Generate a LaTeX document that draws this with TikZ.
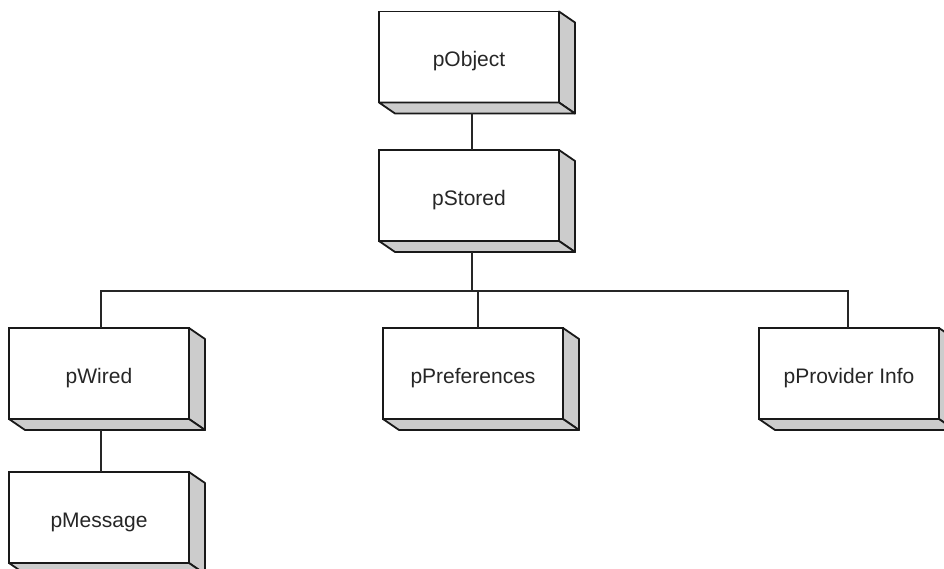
\documentclass[tikz,border=0pt]{standalone}
\usepackage{fontspec}
\setmainfont{Liberation Sans}
\begin{document}
\begin{tikzpicture}[x=1pt,y=-1pt,
  pbox/.style={draw=black!90, line width=1.8pt, fill=white, rectangle,
    minimum width=180pt, minimum height=91pt, inner sep=0pt, outer sep=0pt,
    text height=20pt, text depth=0pt,
    font=\fontsize{21}{25}\selectfont, text=black!85},
  side/.style={draw=black!90, line width=1.8pt, fill=black!20, line join=round},
  conn/.style={draw=black!85, line width=1.5pt}]
\useasboundingbox (0,0) rectangle (944,569);
\newcommand\threedbox[3]{%
  \node[pbox] (#1) at (#2) {#3};
  \filldraw[side] (#1.north east) -- ++(16,11) -- ([shift={(16,11)}]#1.south east) -- (#1.south east) -- cycle;
  \filldraw[side] (#1.south west) -- ++(16,11) -- ([shift={(16,11)}]#1.south east) -- (#1.south east) -- cycle;
}
\threedbox{obj}{469,57}{pObject}
\threedbox{stored}{469,195.5}{pStored}
\threedbox{wired}{99,373.5}{pWired}
\threedbox{prefs}{473,373.5}{pPreferences}
\threedbox{provider}{849,373.5}{pProvider Info}
\threedbox{message}{99,517.5}{pMessage}
\coordinate (bus) at (472,291);
\draw[conn] ([xshift=3pt,yshift=-11pt]obj.south) -- ([xshift=3pt]stored.north);
\draw[conn] ([xshift=3pt,yshift=-11pt]stored.south) -- (bus);
\draw[conn] ([xshift=2pt]wired.north) |- ([xshift=-1pt]provider.north |- bus) -- ([xshift=-1pt]provider.north);
\draw[conn] ([xshift=5pt]prefs.north) -- ([xshift=5pt]prefs.north |- bus);
\draw[conn] ([xshift=2pt,yshift=-11pt]wired.south) -- ([xshift=2pt]message.north);
\end{tikzpicture}
\end{document}
